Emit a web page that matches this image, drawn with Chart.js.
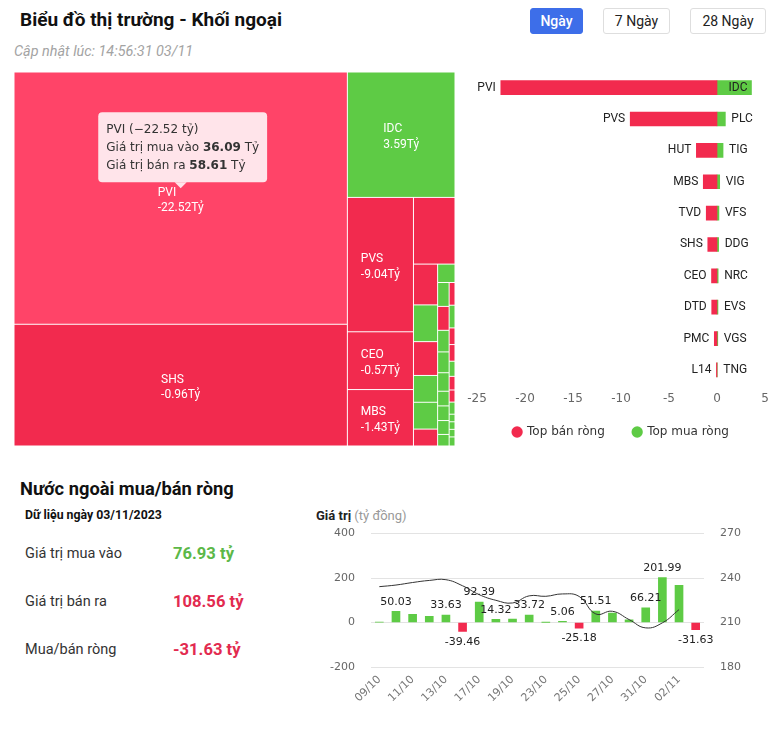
<!DOCTYPE html>
<html lang="vi">
<head>
<meta charset="utf-8">
<title>Biểu đồ thị trường - Khối ngoại</title>
<script src="https://cdn.jsdelivr.net/npm/chart.js@4.4.1/dist/chart.umd.min.js"></script>
<style>
  html, body { margin: 0; padding: 0; background: #fff; }
  body { width: 770px; height: 731px; position: relative; overflow: hidden; font-family: Roboto, "Liberation Sans", sans-serif; color: #222; }
  .abs { position: absolute; white-space: nowrap; }
  .title { left: 20px; top: 8px; font-size: 19px; line-height: 24px; font-weight: 700; color: #111; }
  .updated { left: 14px; top: 44px; font-size: 14.4px; line-height: 16px; font-style: italic; color: #a3a3a3; }
  .btn { top: 8px; height: 26px; line-height: 24px; box-sizing: border-box; border: 1px solid #dedede; border-radius: 3px; background: #fff; font-size: 14px; text-align: center; color: #222; }
  .btn.active { background: #3d6ee9; border-color: #3d6ee9; color: #fff; font-weight: 500; }
  .section { left: 20px; top: 478px; font-size: 18.3px; line-height: 22px; font-weight: 700; color: #111; }
  .date { left: 25px; top: 507px; font-size: 12.3px; line-height: 16px; font-weight: 700; color: #111; }
  .stat-label { left: 25px; font-size: 14.5px; line-height: 20px; color: #333; }
  .stat-value { left: 173px; font-size: 16.6px; line-height: 20px; font-weight: 700; }
  .up { color: #5cb848; }
  .down { color: #e22b4f; }
  .axis-name { left: 316px; top: 508px; font-size: 13px; line-height: 16px; }
  .axis-name b { color: #222; }
  .axis-name span { color: #999; }
  canvas { position: absolute; }
</style>
</head>
<body>

<div class="abs title">Biểu đồ thị trường - Khối ngoại</div>
<div class="abs updated">Cập nhật lúc: 14:56:31 03/11</div>
<div class="abs btn active" style="left:530px;width:53px;">Ngày</div>
<div class="abs btn" style="left:603px;width:67px;">7 Ngày</div>
<div class="abs btn" style="left:690px;width:76px;">28 Ngày</div>

<canvas id="treemap" width="441" height="374" style="left:14px;top:72px;"></canvas>
<canvas id="topChart" width="317" height="376" style="left:460px;top:72px;"></canvas>

<div class="abs section">Nước ngoài mua/bán ròng</div>
<div class="abs date">Dữ liệu ngày 03/11/2023</div>
<div class="abs stat-label" style="top:544px;">Giá trị mua vào</div>
<div class="abs stat-value up" style="top:544px;">76.93 tỷ</div>
<div class="abs stat-label" style="top:592px;">Giá trị bán ra</div>
<div class="abs stat-value down" style="top:592px;">108.56 tỷ</div>
<div class="abs stat-label" style="top:640px;">Mua/bán ròng</div>
<div class="abs stat-value down" style="top:640px;">-31.63 tỷ</div>

<div class="abs axis-name"><b>Giá trị</b> <span>(tỷ đồng)</span></div>
<canvas id="flowChart" width="450" height="210" style="left:310px;top:511px;"></canvas>

<script>
// --- Colours ---
const RED = "#f22a4e";
const RED_HOVER = "#ff4468";
const GREEN = "#5ecb45";
const ECHART_FONT = "DejaVu Sans";

// ===================================================
// Treemap data (cell size = total traded value, colour = net side)
// ===================================================
const tmNames = ["PVI", "SHS", "IDC", "PVS", "CEO", "MBS",
  "", "", "", "", "", "", "", "",
  "", "", "", "", "", "", "", "", "",
  "", "", "", "", "", "", "", "", "", "", "", ""];
const tmValues = [94.70, 45.70, 15.20, 10.00, 4.30, 4.20,
  3.12, 1.11, 1.00, 0.92, 0.73, 0.73, 0.46, 0.36,
  0.31, 0.31, 0.28, 0.27, 0.24, 0.19, 0.19, 0.18, 0.15,
  0.15, 0.15, 0.11, 0.11, 0.10, 0.09, 0.08, 0.08, 0.05, 0.05, 0.05, 0.06];
const tmNet = [-22.52, -0.96, 3.59, -9.04, -0.57, -1.43,
  -2.15, -1.12, 0.30, -0.55, 0.20, 0.17, -0.28, 0.12,
  0.10, -0.08, 0.08, 0.06, 0.05, 0.04, 0.04, 0.03, 0.03,
  -0.05, 0.03, -0.04, -0.03, 0.02, -0.02, -0.02, 0.02, 0.01, 0.01, 0.01, 0.01];
// nesting of cells; split direction alternates with depth (columns first)
const tmNesting = [[0, 1], [2, [[3, 4, 5], [6, [[7, 8, 9, 10, 11, 12],
  [13, [[14, 15, 16, 17, 18, 19, 20, 21, 22], [23, 24, 25, 26, 27, 28, 29, 30, 31, 32, 33, 34]]]]]]]];
const tmActive = 0;
const tmBuy = [36.09];
const tmSell = [58.61];

// ===================================================
// Top net sell / net buy data
// ===================================================
const sellNames = ["PVI", "PVS", "HUT", "MBS", "TVD", "SHS", "CEO", "DTD", "PMC", "L14"];
const sellValues = [-22.52, -9.04, -2.15, -1.43, -1.12, -0.96, -0.57, -0.55, -0.28, -0.06];
const buyNames = ["IDC", "PLC", "TIG", "VIG", "VFS", "DDG", "NRC", "EVS", "VGS", "TNG"];
const buyValues = [3.59, 0.87, 0.63, 0.28, 0.20, 0.17, 0.12, 0.10, 0.08, 0.03];
const topTicks = [-25, -20, -15, -10, -5, 0, 5];
const legendNames = ["Top bán ròng", "Top mua ròng"];

// ===================================================
// Daily foreign net flow data
// ===================================================
const flowDates = ["09/10", "10/10", "11/10", "12/10", "13/10", "16/10", "17/10", "18/10", "19/10", "20/10",
  "23/10", "24/10", "25/10", "26/10", "27/10", "30/10", "31/10", "01/11", "02/11", "03/11"];
const flowNet = [2.1, 50.03, 37.0, 28.0, 33.63, -39.46, 92.39, 14.32, 15.0, 33.72,
  0.8, 5.06, -25.18, 51.51, 42.0, 12.0, 66.21, 201.99, 167.0, -31.63];
const flowNetLabels = [null, "50.03", null, null, "33.63", "-39.46", "92.39", "14.32", null, "33.72",
  null, "5.06", "-25.18", "51.51", null, null, "66.21", "201.99", null, "-31.63"];
const indexLine = [234.2, 235.3, 237.0, 238.4, 238.9, 234.8, 228.8, 225.0, 223.2, 228.0,
  227.7, 229.3, 227.6, 215.8, 217.6, 212.0, 206.4, 209.8, 218.7, null];
const leftTicks = [-200, 0, 200, 400];
const rightTicks = [180, 210, 240, 270];

// ===================================================
// 1. Treemap (custom plugin on hidden 0..1 scales)
// ===================================================
function sumNode(node) {
  return Array.isArray(node) ? node.reduce(function (s, n) { return s + sumNode(n); }, 0) : tmValues[node];
}

function layoutNode(node, x0, y0, x1, y1, depth, out) {
  if (!Array.isArray(node)) {
    out.push({ i: node, x0: x0, y0: y0, x1: x1, y1: y1 });
    return;
  }
  const total = sumNode(node);
  let pos = depth % 2 === 0 ? x0 : y0;
  node.forEach(function (child) {
    const share = sumNode(child) / total;
    if (depth % 2 === 0) {
      const w = (x1 - x0) * share;
      layoutNode(child, pos, y0, pos + w, y1, depth + 1, out);
      pos += w;
    } else {
      const h = (y1 - y0) * share;
      layoutNode(child, x0, pos, x1, pos + h, depth + 1, out);
      pos += h;
    }
  });
}

function drawTooltip(ctx, cx, tipY) {
  const i = tmActive;
  const rows = [
    [[tmNames[i] + " (" + tmNet[i].toFixed(2).replace("-", "\u2212") + " tỷ)", false]],
    [["Giá trị mua vào ", false], [tmBuy[0].toFixed(2), true], [" Tỷ", false]],
    [["Giá trị bán ra ", false], [tmSell[0].toFixed(2), true], [" Tỷ", false]]
  ];
  const normal = "12px '" + ECHART_FONT + "'";
  const bold = "bold 12px '" + ECHART_FONT + "'";
  let maxW = 0;
  rows.forEach(function (row) {
    let w = 0;
    row.forEach(function (part) { ctx.font = part[1] ? bold : normal; w += ctx.measureText(part[0]).width; });
    maxW = Math.max(maxW, w);
  });
  const pad = 8, lineH = 18;
  const boxW = maxW + pad * 2;
  const boxH = rows.length * lineH + pad * 2;
  const left = cx - boxW / 2 + 2;
  const bottom = tipY - 6;
  const top = bottom - boxH;

  ctx.save();
  ctx.fillStyle = "rgba(255, 255, 255, 0.86)";
  ctx.beginPath();
  ctx.roundRect(left, top, boxW, boxH, 4);
  ctx.fill();
  ctx.beginPath();
  ctx.moveTo(cx - 6, bottom);
  ctx.lineTo(cx, tipY);
  ctx.lineTo(cx + 6, bottom);
  ctx.closePath();
  ctx.fill();

  ctx.fillStyle = "#333";
  ctx.textBaseline = "middle";
  ctx.textAlign = "left";
  rows.forEach(function (row, r) {
    let x = left + pad;
    const y = top + pad + lineH * r + lineH / 2 + 1;
    row.forEach(function (part) {
      ctx.font = part[1] ? bold : normal;
      ctx.fillText(part[0], x, y);
      x += ctx.measureText(part[0]).width;
    });
  });
  ctx.restore();
}

const treemapPlugin = {
  id: "treemapCells",
  afterDraw: function (chart) {
    const ctx = chart.ctx;
    const xs = chart.scales.x;
    const ys = chart.scales.y;
    const cells = [];
    layoutNode(tmNesting, 0, 0, 1, 1, 0, cells);

    let active = null;
    ctx.save();
    cells.forEach(function (c) {
      const px0 = xs.getPixelForValue(c.x0), px1 = xs.getPixelForValue(c.x1);
      const py0 = ys.getPixelForValue(c.y0), py1 = ys.getPixelForValue(c.y1);
      ctx.fillStyle = c.i === tmActive ? RED_HOVER : (tmNet[c.i] < 0 ? RED : GREEN);
      ctx.fillRect(px0 + 0.5, py0 + 0.5, px1 - px0 - 1, py1 - py0 - 1);

      if (tmNames[c.i]) {
        const cx = (px0 + px1) / 2, cy = (py0 + py1) / 2;
        const line1 = tmNames[c.i];
        const line2 = tmNet[c.i].toFixed(2) + "Tỷ";
        ctx.font = "12px Roboto";
        const w = Math.max(ctx.measureText(line1).width, ctx.measureText(line2).width);
        ctx.fillStyle = "#fff";
        ctx.textAlign = "left";
        ctx.textBaseline = "middle";
        ctx.fillText(line1, cx - w / 2, cy - 5.5);
        ctx.fillText(line2, cx - w / 2, cy + 10);
      }
      if (c.i === tmActive) active = { cx: (px0 + px1) / 2, cy: (py0 + py1) / 2 };
    });
    ctx.restore();

    if (active) drawTooltip(ctx, active.cx, active.cy - 10);
  }
};

new Chart(document.getElementById("treemap"), {
  type: "scatter",
  data: { datasets: [] },
  options: {
    responsive: false,
    animation: false,
    layout: { padding: 0 },
    plugins: { legend: { display: false }, tooltip: { enabled: false } },
    scales: {
      x: { display: false, min: 0, max: 1 },
      y: { display: false, min: 0, max: 1, reverse: true }
    }
  },
  plugins: [treemapPlugin]
});

// ===================================================
// 2. Top net sell / buy (horizontal bars)
// ===================================================
const sideLabels = {
  id: "sideLabels",
  afterDatasetsDraw: function (chart) {
    const ctx = chart.ctx;
    const sell = chart.getDatasetMeta(0).data;
    const buy = chart.getDatasetMeta(1).data;
    ctx.save();
    ctx.font = "12px Roboto";
    ctx.fillStyle = "#222";
    ctx.textBaseline = "middle";
    sell.forEach(function (bar, i) {
      ctx.textAlign = "right";
      ctx.fillText(sellNames[i], Math.min(bar.x, bar.base) - 5, bar.y);
    });
    buy.forEach(function (bar, i) {
      const right = Math.max(bar.x, bar.base);
      const w = ctx.measureText(buyNames[i]).width;
      if (right + 6 + w > chart.chartArea.right - 8) {
        ctx.textAlign = "right";
        ctx.fillText(buyNames[i], right - 4, bar.y);
      } else {
        ctx.textAlign = "left";
        ctx.fillText(buyNames[i], right + 6, bar.y);
      }
    });
    ctx.restore();
  }
};

new Chart(document.getElementById("topChart"), {
  type: "bar",
  data: {
    labels: sellNames.map(function (n, i) { return n + " / " + buyNames[i]; }),
    datasets: [
      // the wide spaces widen the first legend item to match the reference gap
      { label: legendNames[0] + "\u2003\u2009", data: sellValues, backgroundColor: RED, barThickness: 14 },
      { label: legendNames[1], data: buyValues, backgroundColor: GREEN, barThickness: 14 }
    ]
  },
  options: {
    indexAxis: "y",
    responsive: false,
    animation: false,
    layout: { padding: { left: 17, right: 12, top: 0, bottom: 0 } },
    scales: {
      y: { stacked: true, display: false },
      x: {
        stacked: true,
        min: topTicks[0],
        max: topTicks[topTicks.length - 1],
        afterBuildTicks: function (scale) { scale.ticks = topTicks.map(function (v) { return { value: v }; }); },
        grid: { display: false, drawTicks: false },
        border: { display: false },
        ticks: { color: "#666", padding: 6, font: { family: ECHART_FONT, size: 12 } }
      }
    },
    plugins: {
      tooltip: { enabled: false },
      legend: {
        position: "bottom",
        labels: {
          usePointStyle: true,
          pointStyle: "circle",
          boxWidth: 8,
          boxHeight: 8,
          padding: 14,
          color: "#333",
          font: { family: ECHART_FONT, size: 12 }
        }
      }
    }
  },
  plugins: [sideLabels]
});

// ===================================================
// 3. Daily net flow (bars) + index (line)
// ===================================================
const barValueLabels = {
  id: "barValueLabels",
  afterDatasetsDraw: function (chart) {
    const ctx = chart.ctx;
    const bars = chart.getDatasetMeta(1).data;
    ctx.save();
    ctx.font = "11px '" + ECHART_FONT + "'";
    ctx.fillStyle = "#222";
    ctx.textAlign = "center";
    bars.forEach(function (bar, i) {
      if (flowNetLabels[i] === null) return;
      if (flowNet[i] >= 0) {
        ctx.textBaseline = "bottom";
        ctx.fillText(flowNetLabels[i], bar.x, bar.y - 4);
      } else {
        ctx.textBaseline = "top";
        ctx.fillText(flowNetLabels[i], bar.x, bar.y + 5);
      }
    });
    ctx.restore();
  }
};

new Chart(document.getElementById("flowChart"), {
  type: "bar",
  data: {
    labels: flowDates,
    datasets: [
      {
        type: "line",
        label: "Index",
        data: indexLine,
        yAxisID: "y1",
        borderColor: "#333",
        borderWidth: 1,
        pointRadius: 0,
        tension: 0.45,
        fill: false,
        order: 0
      },
      {
        label: "Giá trị",
        data: flowNet,
        yAxisID: "y",
        backgroundColor: flowNet.map(function (v) { return v < 0 ? RED : GREEN; }),
        barThickness: 8,
        order: 1
      }
    ]
  },
  options: {
    responsive: false,
    animation: false,
    layout: { padding: 0 },
    plugins: { legend: { display: false }, tooltip: { enabled: false } },
    scales: {
      x: {
        grid: { display: false, drawTicks: false },
        border: { display: false },
        afterFit: function (scale) { scale.height = 54; },
        ticks: {
          autoSkip: false,
          minRotation: 45,
          maxRotation: 45,
          padding: 6,
          color: "#777",
          font: { family: ECHART_FONT, size: 11 },
          callback: function (value, index) { return index % 2 === 0 ? flowDates[index] : ""; }
        }
      },
      y: {
        position: "left",
        min: leftTicks[0],
        max: leftTicks[leftTicks.length - 1],
        afterBuildTicks: function (scale) { scale.ticks = leftTicks.map(function (v) { return { value: v }; }); },
        afterFit: function (scale) { scale.width = 61; },
        grid: { color: "#e3e3e3", drawTicks: false },
        border: { display: false },
        ticks: { color: "#666", padding: 16, font: { family: ECHART_FONT, size: 11 } }
      },
      y1: {
        position: "right",
        min: rightTicks[0],
        max: rightTicks[rightTicks.length - 1],
        afterBuildTicks: function (scale) { scale.ticks = rightTicks.map(function (v) { return { value: v }; }); },
        afterFit: function (scale) { scale.width = 56; },
        grid: { display: false, drawTicks: false },
        border: { display: false },
        ticks: { color: "#666", padding: 16, font: { family: ECHART_FONT, size: 11 } }
      }
    }
  },
  plugins: [barValueLabels]
});
</script>
</body>
</html>
